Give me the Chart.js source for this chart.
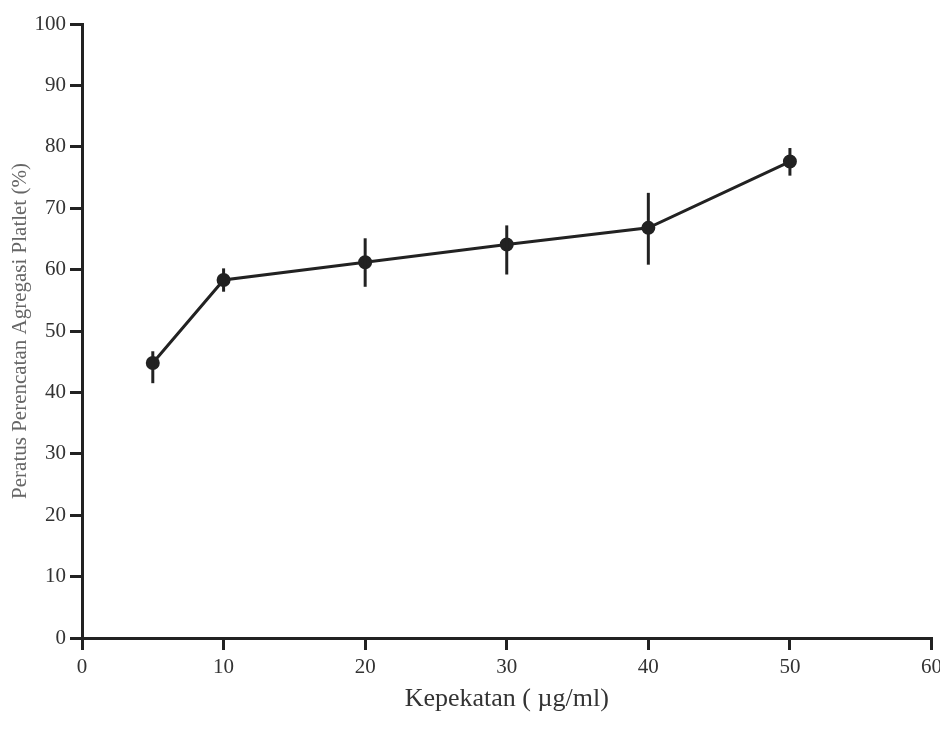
<!DOCTYPE html>
<html>
<head>
<meta charset="utf-8">
<script src="https://cdn.jsdelivr.net/npm/chart.js@4/dist/chart.umd.min.js"></script>
<style>
  html, body { margin: 0; padding: 0; background: #fff; }
  #wrap { width: 940px; height: 741px; position: relative; }
</style>
</head>
<body>
<div id="wrap"><canvas id="chart"></canvas></div>
<script>
// Concentration (µg/ml) and % platelet aggregation inhibition
const concentrations = [5, 10, 20, 30, 40, 50];
const inhibition = [44.8, 58.3, 61.2, 64.1, 66.8, 77.6];
const errLow = [41.5, 56.4, 57.2, 59.2, 60.8, 75.3];
const errHigh = [46.7, 60.2, 65.1, 67.2, 72.5, 79.8];

const xTicks = [0, 10, 20, 30, 40, 50, 60];
const yTicks = [0, 10, 20, 30, 40, 50, 60, 70, 80, 90, 100];

const ink = '#222';

// Vertical error bars drawn through the chart scales
const errorBars = {
  id: 'errorBars',
  afterDatasetsDraw(chart) {
    const { ctx, scales: { x, y } } = chart;
    ctx.save();
    ctx.strokeStyle = ink;
    ctx.lineWidth = 3;
    concentrations.forEach((c, i) => {
      const px = x.getPixelForValue(c);
      ctx.beginPath();
      ctx.moveTo(px, y.getPixelForValue(errHigh[i]));
      ctx.lineTo(px, y.getPixelForValue(errLow[i]));
      ctx.stroke();
    });
    ctx.restore();
  }
};

new Chart(document.getElementById('chart').getContext('2d'), {
  type: 'scatter',
  data: {
    datasets: [{
      data: concentrations.map((c, i) => ({ x: c, y: inhibition[i] })),
      showLine: true,
      borderColor: ink,
      borderWidth: 3,
      backgroundColor: ink,
      pointRadius: 5.5,
      pointHoverRadius: 5.5
    }]
  },
  options: {
    responsive: true,
    maintainAspectRatio: false,
    animation: false,
    layout: { padding: { top: 24, right: 0, left: 4, bottom: 8 } },
    plugins: {
      legend: { display: false },
      tooltip: { enabled: false }
    },
    scales: {
      x: {
        type: 'linear',
        min: 0,
        max: 60,
        afterBuildTicks: (s) => { s.ticks = xTicks.map(v => ({ value: v })); },
        afterFit: (s) => { s.height = 95; s.paddingRight = 0; s.paddingLeft = 0; },
        border: { display: true, color: ink, width: 3 },
        grid: { drawOnChartArea: false, color: ink, lineWidth: 3, tickLength: 12 },
        ticks: {
          color: '#333',
          padding: 5,
          font: { family: 'Liberation Serif', size: 21 }
        },
        title: {
          display: true,
          text: 'Kepekatan ( µg/ml)',
          color: '#333',
          padding: { top: 10, bottom: 18 },
          font: { family: 'Liberation Serif', size: 26 }
        }
      },
      y: {
        min: 0,
        max: 100,
        afterBuildTicks: (s) => { s.ticks = yTicks.map(v => ({ value: v })); },
        afterFit: (s) => { s.width = 78; },
        border: { display: true, color: ink, width: 3 },
        grid: { drawOnChartArea: false, color: ink, lineWidth: 3, tickLength: 12 },
        ticks: {
          color: '#333',
          padding: 4,
          font: { family: 'Liberation Serif', size: 21 }
        },
        title: {
          display: true,
          text: 'Peratus Perencatan Agregasi Platlet (%)',
          color: '#666',
          padding: { bottom: 2 },
          font: { family: 'Liberation Serif', size: 21 }
        }
      }
    }
  },
  plugins: [errorBars]
});
</script>
</body>
</html>
